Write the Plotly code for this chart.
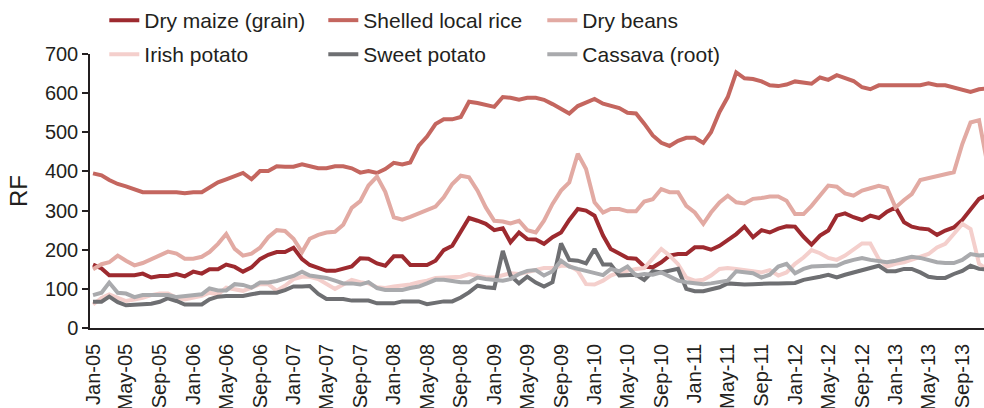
import pandas as pd
import plotly.graph_objects as go

months = pd.date_range("2005-01-01", periods=108, freq="MS")

dry_maize = [162, 152, 135, 135, 135, 135, 139, 129, 133, 133, 138, 132, 144, 139, 150, 150,
             162, 156, 144, 155, 176, 187, 194, 194, 205, 176, 161, 153, 146, 146, 151, 157,
             178, 177, 165, 159, 183, 183, 161, 161, 161, 172, 199, 210, 244, 281, 274, 266,
             250, 255, 219, 244, 227, 226, 215, 232, 244, 276, 304, 300, 287, 236, 202, 189,
             179, 177, 157, 155, 168, 185, 189, 189, 206, 206, 200, 210, 225, 240, 259, 232,
             250, 244, 254, 260, 259, 233, 213, 236, 249, 287, 293, 283, 276, 287, 281, 297,
             308, 270, 259, 254, 252, 238, 249, 257, 276, 304, 330, 340]
shelled_rice = [395, 390, 378, 368, 362, 355, 347, 347, 347, 347, 347, 344, 347, 347, 358, 372,
                380, 387, 396, 380, 401, 401, 413, 412, 412, 418, 413, 408, 408, 413, 413, 408,
                397, 401, 396, 406, 422, 418, 423, 466, 489, 521, 533, 533, 539, 578, 575, 570,
                565, 590, 588, 583, 588, 588, 583, 572, 560, 548, 567, 577, 585, 573, 567, 562,
                550, 548, 522, 492, 473, 465, 478, 486, 486, 473, 500, 552, 590, 653, 638, 636,
                630, 620, 618, 622, 630, 626, 624, 640, 634, 646, 638, 631, 615, 610, 620, 620,
                620, 620, 620, 620, 625, 620, 620, 614, 609, 603, 610, 612]
dry_beans = [150, 163, 168, 185, 172, 160, 166, 176, 187, 195, 190, 177, 177, 182, 194, 215,
             240, 202, 185, 190, 205, 232, 250, 248, 228, 194, 228, 238, 244, 246, 264, 307,
             324, 364, 387, 348, 283, 277, 284, 293, 300, 310, 334, 368, 389, 385, 351, 308,
             274, 272, 267, 274, 250, 244, 274, 317, 351, 372, 445, 406, 321, 295, 304, 304,
             298, 298, 323, 329, 355, 347, 347, 312, 295, 266, 295, 321, 338, 321, 318, 330,
             332, 336, 336, 325, 291, 291, 312, 338, 364, 361, 344, 338, 351, 357, 363, 358,
             308, 327, 342, 378, 383, 389, 392, 398, 470, 525, 531, 420]
irish_potato = [60, 77, 86, 77, 69, 73, 77, 84, 88, 88, 77, 73, 77, 82, 90, 86,
                103, 99, 95, 103, 112, 112, 95, 108, 125, 131, 131, 125, 114, 100, 111, 123,
                117, 114, 104, 102, 106, 108, 111, 117, 121, 128, 129, 131, 131, 138, 134, 129,
                129, 136, 140, 138, 142, 148, 153, 153, 159, 159, 146, 112, 111, 121, 134, 142,
                146, 151, 153, 176, 202, 185, 163, 129, 121, 123, 134, 151, 153, 151, 149, 145,
                142, 148, 134, 142, 164, 180, 199, 191, 179, 174, 185, 202, 216, 216, 176, 157,
                164, 168, 174, 182, 189, 206, 215, 240, 266, 253, 164, 150]
sweet_potato = [67, 67, 80, 66, 58, 60, 62, 62, 67, 76, 69, 60, 60, 60, 73, 80,
                82, 82, 82, 86, 90, 90, 90, 97, 106, 106, 107, 87, 74, 74, 74, 70,
                70, 70, 63, 63, 63, 68, 68, 68, 61, 65, 68, 68, 78, 91, 108, 104,
                102, 197, 134, 114, 131, 116, 106, 117, 216, 174, 172, 165, 202, 162, 162, 134,
                134, 136, 123, 145, 142, 146, 151, 100, 94, 94, 100, 104, 114, 112, 111, 112,
                114, 114, 114, 114, 115, 123, 126, 131, 136, 129, 136, 142, 148, 153, 159, 145,
                145, 151, 151, 142, 131, 128, 128, 138, 146, 159, 151, 150]
cassava = [84, 90, 116, 90, 88, 79, 84, 84, 84, 84, 79, 82, 84, 86, 101, 96,
           96, 112, 110, 103, 116, 116, 120, 127, 133, 144, 134, 131, 128, 121, 114, 114,
           111, 117, 102, 97, 97, 97, 102, 106, 114, 123, 123, 119, 117, 117, 129, 125,
           123, 121, 125, 138, 146, 148, 134, 145, 172, 157, 151, 146, 142, 135, 151, 145,
           157, 134, 138, 136, 142, 131, 121, 117, 114, 112, 114, 117, 121, 145, 142, 140,
           129, 136, 157, 164, 140, 151, 157, 159, 159, 159, 168, 174, 179, 174, 171, 168,
           172, 176, 182, 179, 174, 168, 166, 166, 174, 189, 185, 187]

series = [
    ("Dry maize (grain)", dry_maize, "#9d2a2f", "legend"),
    ("Shelled local rice", shelled_rice, "#c4665f", "legend"),
    ("Dry beans", dry_beans, "#e2aaa3", "legend"),
    ("Irish potato", irish_potato, "#f4cfcc", "legend2"),
    ("Sweet potato", sweet_potato, "#6e6f72", "legend2"),
    ("Cassava (root)", cassava, "#a9aaad", "legend2"),
]

fig = go.Figure()
for name, vals, color, leg in series:
    fig.add_trace(go.Scatter(
        x=months, y=vals, mode="lines", name=name, legend=leg,
        line=dict(color=color, width=4)
    ))

# plot area spans the full height above the bottom margin; the y axis
# only uses its lower part so the legends can sit above it without
# pushing the margins
H_PAPER = 408 - 80
Y_TOP = 54

font = dict(family="Liberation Sans, Arial, sans-serif", size=20, color="#231f20")
legend_font = dict(font, size=21)
legend_style = dict(
    orientation="h", xanchor="left", yanchor="top", x=0.016,
    entrywidth=174, entrywidthmode="pixels",
    font=legend_font, bgcolor="rgba(0,0,0,0)", itemwidth=30,
)

fig.update_layout(
    width=984, height=408,
    margin=dict(l=90, r=0, t=0, b=80),
    paper_bgcolor="white", plot_bgcolor="white",
    font=font,
    showlegend=True,
    legend=dict(legend_style, y=1.0),
    legend2=dict(legend_style, y=(H_PAPER - 34) / H_PAPER),
)

fig.update_xaxes(
    range=["2004-12-21", "2013-11-19"],
    tickformat="%b-%y", dtick="M4", tick0="2005-01-01",
    tickangle=-90, ticks="", showgrid=False, zeroline=False,
    showline=True, linecolor="#231f20", linewidth=1.5,
    tickfont=font, automargin=False, ticklabelstandoff=6,
)
fig.update_yaxes(
    range=[0, 700], dtick=100, domain=[0, (H_PAPER - Y_TOP) / H_PAPER],
    title_text="RF", title_standoff=10,
    ticks="outside", ticklen=6, tickcolor="#231f20", tickwidth=1.5,
    showgrid=False, zeroline=False,
    showline=True, linecolor="#231f20", linewidth=1.5,
    tickfont=font, automargin=False,
)

fig.write_html("out.html", config={"displayModeBar": False},
               post_script="document.body.style.margin = '0';")
